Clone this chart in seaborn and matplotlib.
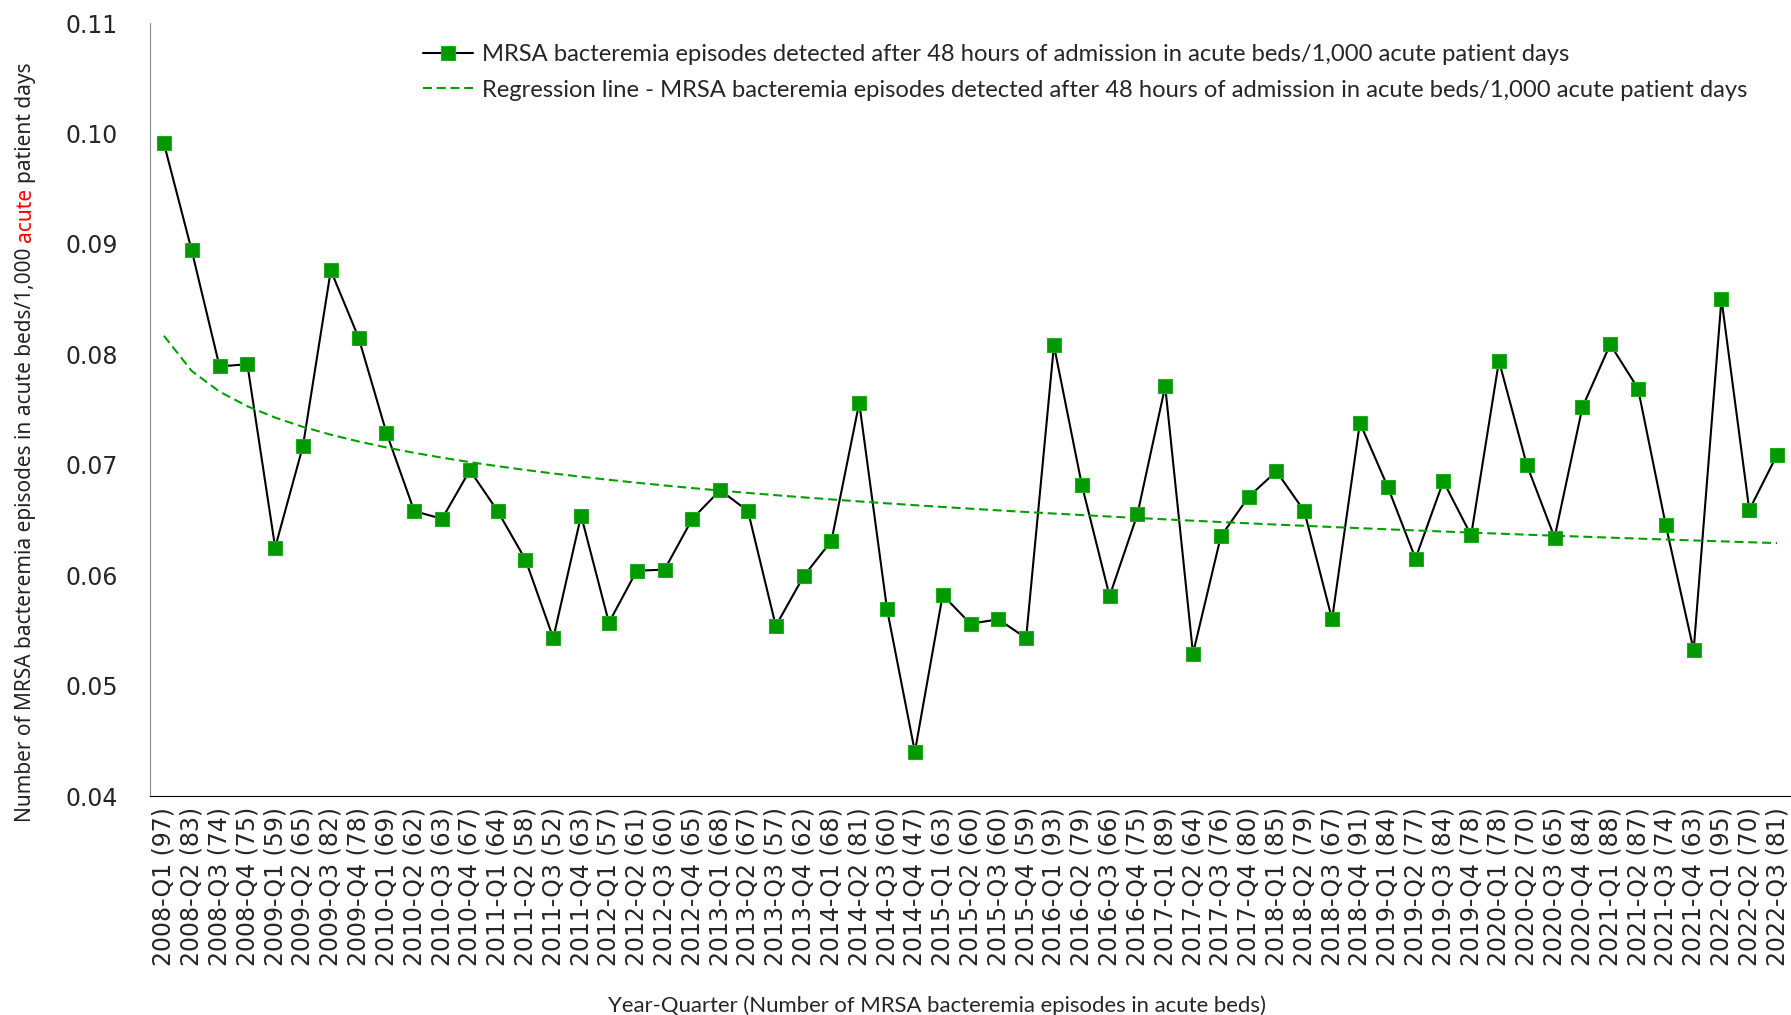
import seaborn as sns
import matplotlib.pyplot as plt
import matplotlib.ticker as mticker
import numpy as np
import pandas as pd

sns.set_style("white")
plt.rcParams["font.family"] = ["DejaVu Sans"]

# quarters 2008-Q1 .. 2022-Q3
quarters = [f"{y}-Q{q}" for y in range(2008, 2023) for q in range(1, 5)][:59]

# number of episodes per quarter (shown in tick labels)
episodes = [97, 83, 74, 75, 59, 65, 82, 78, 69, 62, 63, 67, 64, 58, 52, 63,
            57, 61, 60, 65, 68, 67, 57, 62, 68, 81, 60, 47, 63, 60, 60, 59,
            93, 79, 66, 75, 89, 64, 76, 80, 85, 79, 67, 91, 84, 77, 84, 78,
            78, 70, 65, 84, 88, 87, 74, 63, 95, 70, 81]

# episodes / 1,000 acute patient days
rate = [0.0991, 0.0894, 0.0789, 0.0791, 0.0625, 0.0717, 0.0876, 0.0815,
        0.0729, 0.0658, 0.0651, 0.0695, 0.0658, 0.0614, 0.0543, 0.0654,
        0.0557, 0.0604, 0.0605, 0.0651, 0.0677, 0.0658, 0.0554, 0.0599,
        0.0631, 0.0756, 0.0569, 0.0440, 0.0582, 0.0556, 0.0560, 0.0543,
        0.0808, 0.0682, 0.0581, 0.0655, 0.0771, 0.0529, 0.0635, 0.0671,
        0.0694, 0.0658, 0.0560, 0.0738, 0.0680, 0.0615, 0.0685, 0.0636,
        0.0794, 0.0700, 0.0634, 0.0752, 0.0809, 0.0769, 0.0645, 0.0532,
        0.0850, 0.0659, 0.0709]

labels = [f"{q} ({n})" for q, n in zip(quarters, episodes)]

# logarithmic trend line (like Excel's log trendline)
idx = np.arange(1, len(rate) + 1)
b, a = np.polyfit(np.log(idx), rate, 1)
trend = a + b * np.log(idx)

df = pd.DataFrame({"label": labels, "rate": rate, "trend": trend})

W, H = 1791, 1015
fig = plt.figure(figsize=(W / 100, H / 100), dpi=100)
ax = fig.add_axes([150 / W, 219 / H, (W - 150) / W, (796 - 23) / H])

legend_font = {"family": "Lato", "size": 17.1}
name1 = "MRSA bacteremia episodes detected after 48 hours of admission in acute beds/1,000 acute patient days"
name2 = "Regression line - " + name1

sns.lineplot(data=df, x="label", y="rate", ax=ax, color="black", linewidth=1.5,
             marker="s", markersize=10, markerfacecolor="#009900",
             markeredgecolor="#22aa22", markeredgewidth=0.8, label=name1)
sns.lineplot(data=df, x="label", y="trend", ax=ax, color="#00a000", linewidth=1.5,
             linestyle=(0, (4.3, 2.3)), label=name2)

ax.set_xlim(-0.5, len(labels) - 0.5)
ax.set_ylim(0.04, 0.11)
ax.yaxis.set_major_locator(mticker.MultipleLocator(0.01))
ax.yaxis.set_major_formatter(mticker.FormatStrFormatter("%.2f"))

ax.set_xticks(range(len(labels)))
ax.set_xticklabels(labels, rotation=90)
ax.set_xticks(np.arange(0.5, len(labels) - 1, 1), minor=True)
ax.tick_params(axis="x", which="major", length=0, pad=8, labelsize=17)
ax.tick_params(axis="x", which="minor", direction="in", length=6, width=1, color="black")
ax.tick_params(axis="y", direction="in", length=6, width=1, pad=23, labelsize=17, color="#555555")

for s in ["top", "right"]:
    ax.spines[s].set_visible(False)
ax.spines["left"].set_color("#888888")
ax.spines["bottom"].set_color("black")
ax.set_xlabel("")
ax.set_ylabel("")

leg = ax.legend(loc="upper left", bbox_to_anchor=(423 / W, (H - 44) / H),
                bbox_transform=fig.transFigure, frameon=False, prop=legend_font,
                borderpad=0, borderaxespad=0, handlelength=2.1,
                handletextpad=0.38, labelspacing=0.62)

fig.text(937 / W, 3 / H, "Year-Quarter (Number of MRSA bacteremia episodes in acute beds)",
         ha="center", va="baseline", fontsize=15.9, family="Lato")

# y label with a red word, built from three rotated pieces
r = fig.canvas.get_renderer()
ylab_font = {"family": "Noto Sans", "size": 15}


def measure(s):
    t = fig.text(0, 0, s, fontdict=ylab_font)
    w = t.get_window_extent(renderer=r).width
    t.remove()
    return w


space = measure("a a") - measure("aa")
parts = [("Number of MRSA bacteremia episodes in acute beds/1,000", "#222222"),
         ("acute", "red"),
         ("patient days", "#222222")]
pos = 1015 - 822
for txt, col in parts:
    fig.text(31 / W, pos / H, txt, rotation=90, rotation_mode="anchor",
             ha="left", va="baseline", color=col, fontdict=ylab_font)
    pos += measure(txt) + space

fig.savefig("out.png", dpi=100)
